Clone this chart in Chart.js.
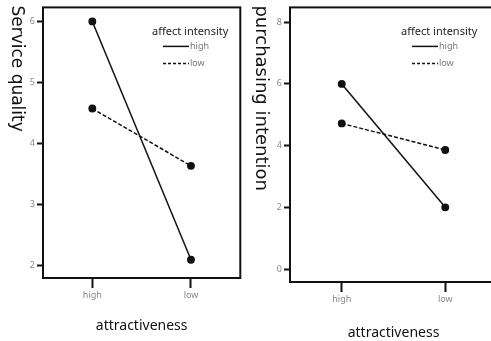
<!DOCTYPE html>
<html>
<head>
<meta charset="utf-8">
<script src="https://cdn.jsdelivr.net/npm/chart.js@4"></script>
<style>
  html, body { margin: 0; padding: 0; background: #fff; overflow: hidden; }
  #wrap { position: relative; width: 491px; height: 341px; overflow: hidden; }
  #left { position: absolute; left: 0; top: 0; }
  #right { position: absolute; left: 245px; top: 0; }
</style>
</head>
<body>
<div id="wrap">
  <canvas id="left" width="245" height="341"></canvas>
  <canvas id="right" width="262" height="341"></canvas>
</div>
<script>
const categories = ['high', 'low'];
const seriesNames = ['high', 'low'];

// left panel: service quality
const serviceHigh = [6, 2.09];
const serviceLow = [4.57, 3.63];
const serviceTicks = [2, 3, 4, 5, 6];

// right panel: purchasing intention
const purchaseHigh = [6, 2];
const purchaseLow = [4.72, 3.86];
const purchaseTicks = [0, 2, 4, 6, 8];

const frame = {
    id: 'frame',
    beforeDatasetsDraw(chart) {
        const a = chart.chartArea;
        const c = chart.ctx;
        c.save();
        c.strokeStyle = '#111';
        c.lineWidth = 2;
        c.strokeRect(a.left, a.top, a.right - a.left, a.bottom - a.top);
        c.restore();
    }
};

// y title reads top to bottom in the original, so it is drawn by hand
const sideTitle = {
    id: 'sideTitle',
    afterDraw(chart, args, opts) {
        const c = chart.ctx;
        c.save();
        c.translate(opts.x, chart.chartArea.top - 2);
        c.rotate(Math.PI / 2);
        c.fillStyle = '#111';
        c.font = opts.size + 'px "DejaVu Sans"';
        c.textAlign = 'left';
        c.textBaseline = 'middle';
        c.fillText(opts.text, 0, 0);
        c.restore();
    }
};

const innerLegend = {
    id: 'innerLegend',
    afterDraw(chart, args, opts) {
        const c = chart.ctx;
        const x = chart.chartArea.left + opts.x;
        const y = chart.chartArea.top + opts.y;
        c.save();
        c.fillStyle = '#222';
        c.font = '11px "Noto Sans"';
        c.textBaseline = 'middle';
        c.fillText('affect intensity', x, y);
        c.strokeStyle = '#111';
        c.lineWidth = 1.5;
        seriesNames.forEach((name, i) => {
            const ly = y + 15 + i * 17;
            c.setLineDash(i === 0 ? [] : [3, 2]);
            c.beginPath();
            c.moveTo(x + 11, ly);
            c.lineTo(x + 37, ly);
            c.stroke();
            c.fillStyle = '#777';
            c.font = '9px "Noto Sans"';
            c.fillText(name, x + 38, ly);
        });
        c.restore();
    }
};

function panel(id, high, low, ticks, min, max, yTitle, yTitleSize, yWidth, xHeight, pad, legendX, titlePad) {
    return new Chart(document.getElementById(id), {
        type: 'line',
        data: {
            labels: categories,
            datasets: [{
                label: seriesNames[0],
                data: high,
                borderColor: '#111',
                backgroundColor: '#111',
                borderWidth: 1.5,
                pointRadius: 3.2,
                pointHoverRadius: 3.2
            }, {
                label: seriesNames[1],
                data: low,
                borderColor: '#111',
                backgroundColor: '#111',
                borderWidth: 1.5,
                borderDash: [4, 2],
                pointRadius: 3.2,
                pointHoverRadius: 3.2
            }]
        },
        options: {
            responsive: false,
            animation: false,
            layout: { padding: pad },
            plugins: {
                legend: { display: false },
                tooltip: { enabled: false },
                innerLegend: { x: legendX, y: 24 },
                sideTitle: { text: yTitle, size: yTitleSize, x: 16 }
            },
            scales: {
                x: {
                    offset: true,
                    border: { display: false },
                    grid: {
                        drawOnChartArea: false,
                        offset: false,
                        tickLength: 10,
                        tickWidth: 2,
                        tickColor: '#111'
                    },
                    ticks: {
                        color: '#888',
                        font: { family: 'Noto Sans', size: 9 },
                        padding: 2
                    },
                    title: {
                        display: true,
                        text: 'attractiveness',
                        color: '#111',
                        font: { family: 'Noto Sans', size: 14 },
                        padding: { top: 4, bottom: titlePad }
                    },
                    afterFit(s) { s.height = xHeight; }
                },
                y: {
                    min: min,
                    max: max,
                    border: { display: false },
                    grid: {
                        drawOnChartArea: false,
                        tickLength: 6,
                        tickWidth: 2,
                        tickColor: '#111'
                    },
                    ticks: {
                        color: '#888',
                        font: { family: 'Noto Sans', size: 9 },
                        padding: 2
                    },
                    afterBuildTicks(s) { s.ticks = ticks.map(v => ({ value: v })); },
                    afterFit(s) { s.width = yWidth; }
                }
            }
        },
        plugins: [frame, innerLegend, sideTitle]
    });
}

panel('left', serviceHigh, serviceLow, serviceTicks, 1.79, 6.23,
    'Service quality', 17, 43, 63, { top: 5, right: 4, left: 0, bottom: 0 }, 109, 7);
panel('right', purchaseHigh, purchaseLow, purchaseTicks, -0.42, 8.48,
    'purchasing intention', 18, 45, 59, { top: 5, right: 10, left: 0, bottom: 0 }, 111, 0);
</script>
</body>
</html>
